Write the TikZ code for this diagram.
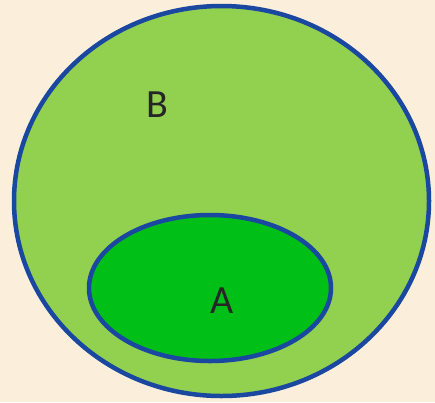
\documentclass[tikz,border=0pt]{standalone}
\usepackage{fontspec}
\setmainfont{Carlito}
\usetikzlibrary{shapes.geometric}
\definecolor{bgcream}{HTML}{FBEEDA}
\definecolor{lightgreen}{HTML}{92D050}
\definecolor{darkgreen}{HTML}{00C018}
\definecolor{rimblue}{HTML}{1A47A0}
\tikzset{
  setshape/.style={draw=rimblue, line width=4.5pt},
  setlabel/.style={font=\fontsize{40}{40}\selectfont, text=black!85, inner sep=0pt}
}
\begin{document}
\begin{tikzpicture}[x=1pt,y=-1pt]
  \fill[bgcream] (0,0) rectangle (435,402);
  \useasboundingbox (0,0) rectangle (435,402);
  \draw[setshape, fill=lightgreen] (221.5,201) ellipse [x radius=207.5, y radius=195];
  \draw[setshape, fill=darkgreen] (210,288) ellipse [x radius=121, y radius=73];
  \node[setlabel] (B) at (157,105) {B};
  \node[setlabel] (A) at (222,301) {A};
\end{tikzpicture}
\end{document}
